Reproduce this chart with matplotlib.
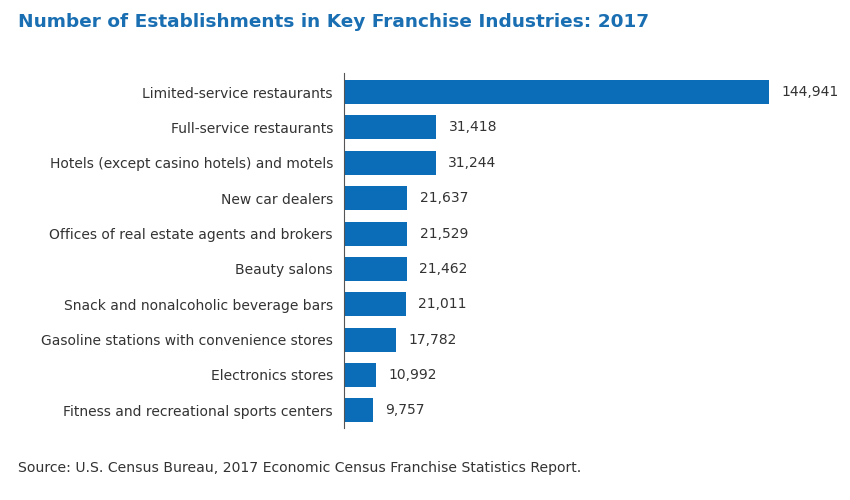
import matplotlib
matplotlib.use("Agg")
import matplotlib.pyplot as plt

categories = [
    "Limited-service restaurants",
    "Full-service restaurants",
    "Hotels (except casino hotels) and motels",
    "New car dealers",
    "Offices of real estate agents and brokers",
    "Beauty salons",
    "Snack and nonalcoholic beverage bars",
    "Gasoline stations with convenience stores",
    "Electronics stores",
    "Fitness and recreational sports centers",
]
values = [144941, 31418, 31244, 21637, 21529, 21462, 21011, 17782, 10992, 9757]

title = "Number of Establishments in Key Franchise Industries: 2017"
source = "Source: U.S. Census Bureau, 2017 Economic Census Franchise Statistics Report."

bar_color = "#0b6db7"
text_color = "#333333"

fig = plt.figure(figsize=(8.5, 5), dpi=100)
fig.patch.set_facecolor("white")
ax = fig.add_axes([344/850, 1-428/500, (769-344)/850, (428-73)/500])

ypos = list(range(len(categories)))
ax.barh(ypos, values, height=0.68, color=bar_color)
ax.set_xlim(0, max(values))
ax.set_ylim(len(categories) - 0.5, -0.54)
ax.set_yticks(ypos)
ax.set_yticklabels(categories, fontsize=10, color=text_color)
ax.tick_params(axis="y", length=0, pad=8)
ax.set_xticks([])
for s in ["top", "right", "bottom"]:
    ax.spines[s].set_visible(False)
ax.spines["left"].set_color("#555555")
ax.spines["left"].set_linewidth(0.8)

for y, v in zip(ypos, values):
    ax.annotate(f"{v:,}", xy=(v, y), xytext=(9, 0), textcoords="offset points",
                va="center", ha="left", fontsize=10, color=text_color,
                annotation_clip=False)

fig.text(18/850, 1-22/500, title, fontsize=13.3, fontweight="bold",
         color="#1a6fb3", ha="left", va="center")
fig.text(18/850, 1-468/500, source, fontsize=10.1, color=text_color,
         ha="left", va="center")

fig.savefig("out.png", dpi=100)
